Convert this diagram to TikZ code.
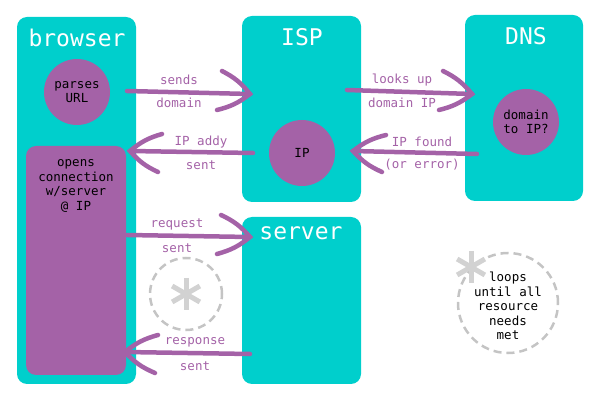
\documentclass[tikz,border=0pt]{standalone}
\usepackage{fontspec}
\newfontfamily\monof{DejaVu Sans Mono}
\usetikzlibrary{calc}
\definecolor{tealbox}{HTML}{00CFCC}
\definecolor{purp}{HTML}{A462A7}
\definecolor{dgray}{HTML}{C4C4C4}
\definecolor{agray}{HTML}{D2D2D2}
\begin{document}
\begin{tikzpicture}[x=1pt,y=-1pt,
  box/.style={fill=tealbox, rounded corners=10pt, minimum width=119pt, inner sep=0pt},
  title/.style={text=white, font=\monof\fontsize{23}{23}\selectfont},
  blob/.style={circle, fill=purp, minimum size=66pt, inner sep=0pt, align=center, font=\monof\fontsize{12.5}{14.5}\selectfont},
  lbl/.style={text=purp, font=\monof\fontsize{12.5}{14}\selectfont},
  arr/.style={draw=purp, line width=4.5pt, line cap=round},
  dcirc/.style={circle, draw=dgray, line width=2.5pt, dash pattern=on 8pt off 5pt, inner sep=0pt},
  astline/.style={draw=agray, line width=5pt}
]
\useasboundingbox (0,0) rectangle (600,403);
% boxes
\node[box, minimum height=367pt] (browser) at (76.5,200.5) {};
\node[box, minimum height=186pt] (isp) at (301.5,109) {};
\node[box, minimum height=186pt, minimum width=118pt] (dns) at (524,108) {};
\node[box, minimum height=167pt] (server) at (301.5,300.5) {};
% titles
\node[title] (tbrowser) at (77,38) {browser};
\node[title] (tisp) at (302,37) {ISP};
\node[title] (tdns) at (526,36) {DNS};
\node[title] (tserver) at (301,233) {server};
% inner shapes
\node[blob] (parse) at (77,92) {parses\\URL};
\node[blob] (ip) at (302,153) {IP};
\node[blob] (d2ip) at (526,122) {domain\\to IP?};
\node[fill=purp, rounded corners=10pt, minimum width=100pt, minimum height=229pt, inner sep=0pt] (opens) at (76,260.5) {};
\node[align=center, font=\monof\fontsize{12.5}{14.5}\selectfont, anchor=north] (opentxt) at (76,156) {opens\\connection\\w/server\\@ IP};
% arrows
\coordinate (a1s) at (127,91); \coordinate (a1t) at (250,94);
\coordinate (a2s) at (253,153); \coordinate (a2t) at (130,151);
\coordinate (a3s) at (347,90); \coordinate (a3t) at (472,94);
\coordinate (a4s) at (477,154); \coordinate (a4t) at (353,151);
\coordinate (a5s) at (127,235); \coordinate (a5t) at (250,237);
\coordinate (a6s) at (250,354); \coordinate (a6t) at (125,352);
\draw[arr] (a1s) -- (a1t);
\draw[arr] ($(a1t)+(-28,-23)$) to[bend left=12] (a1t) to[bend left=12] ($(a1t)+(-33,16)$);
\draw[arr] (a2s) -- (a2t);
\draw[arr] ($(a2t)+(32,-17)$) to[bend right=12] (a2t) to[bend right=12] ($(a2t)+(28,21)$);
\draw[arr] (a3s) -- (a3t);
\draw[arr] ($(a3t)+(-29,-23)$) to[bend left=12] (a3t) to[bend left=12] ($(a3t)+(-33,16)$);
\draw[arr] (a4s) -- (a4t);
\draw[arr] ($(a4t)+(33,-16)$) to[bend right=12] (a4t) to[bend right=12] ($(a4t)+(29,21)$);
\draw[arr] (a5s) -- (a5t);
\draw[arr] ($(a5t)+(-29,-22)$) to[bend left=12] (a5t) to[bend left=12] ($(a5t)+(-33,17)$);
\draw[arr] (a6s) -- (a6t);
\draw[arr] ($(a6t)+(33,-17)$) to[bend right=12] (a6t) to[bend right=12] ($(a6t)+(30,21)$);
% labels
\node[lbl] (l1a) at (179,80) {sends};
\node[lbl] (l1b) at (179,103) {domain};
\node[lbl] (l2a) at (201,142) {IP addy};
\node[lbl] (l2b) at (201,165) {sent};
\node[lbl] (l3a) at (402,80) {looks up};
\node[lbl] (l3b) at (402,103) {domain IP};
\node[lbl] (l4a) at (422,142) {IP found};
\node[lbl] (l4b) at (422,165) {(or error)};
\node[lbl] (l5a) at (177,224) {request};
\node[lbl] (l5b) at (177,248) {sent};
\node[lbl] (l6a) at (195,342) {response};
\node[lbl] (l6b) at (195,366) {sent};
% loop markers
\node[dcirc, minimum size=72pt] (loop1) at (186,294) {};
\draw[astline] (186,278) -- (186,310);
\draw[astline] ($(186,294)+(-30:16)$) -- ($(186,294)+(150:16)$);
\draw[astline] ($(186,294)+(30:16)$) -- ($(186,294)+(210:16)$);
\node[dcirc, minimum size=100pt] (loop2) at (508,303) {};
\draw[astline] (471,251) -- (471,283);
\draw[astline] ($(471,267)+(-30:16)$) -- ($(471,267)+(150:16)$);
\draw[astline] ($(471,267)+(30:16)$) -- ($(471,267)+(210:16)$);
\node[align=center, font=\monof\fontsize{12.5}{14.5}\selectfont] (looptxt) at (508,306) {loops\\until all\\resource\\needs\\met};
\end{tikzpicture}
\end{document}
